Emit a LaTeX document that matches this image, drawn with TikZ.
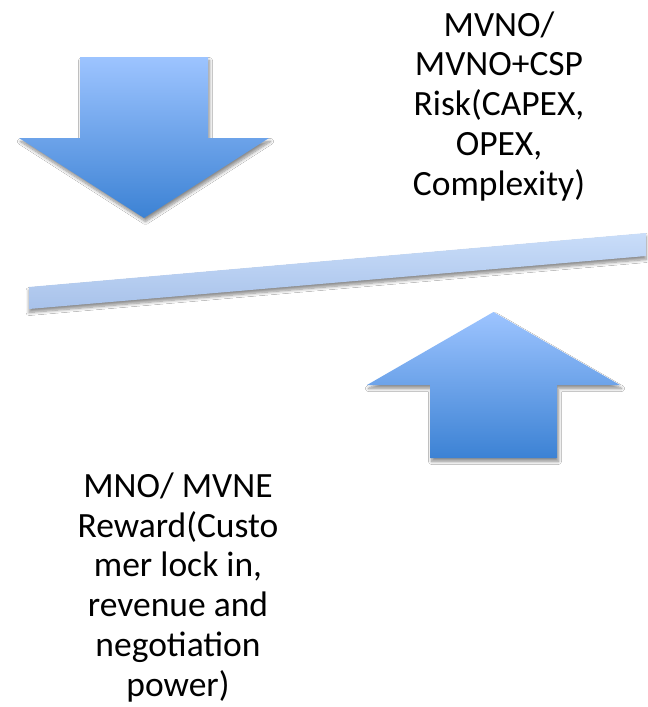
\documentclass[tikz,border=0pt]{standalone}
\usepackage{fontspec}
\setmainfont{Carlito}
\usetikzlibrary{shadows.blur}
\definecolor{arrtop}{RGB}{157,196,255}
\definecolor{arrbot}{RGB}{60,130,212}
\definecolor{bartop}{RGB}{201,221,249}
\definecolor{barbot}{RGB}{168,194,234}
\tikzset{
  bigarrow/.style={top color=arrtop, bottom color=arrbot, draw=none,
    blur shadow={shadow xshift=1.5pt, shadow yshift=-3.5pt, shadow opacity=45, shadow blur steps=8, shadow blur radius=3pt}},
  beam/.style={top color=bartop, bottom color=barbot, draw=none,
    blur shadow={shadow xshift=0pt, shadow yshift=-3.5pt, shadow opacity=45, shadow blur steps=8, shadow blur radius=3pt}},
  lbl/.style={align=center, inner sep=0pt, font=\fontsize{35.5}{39.7}\selectfont}
}
\begin{document}
\begin{tikzpicture}[x=1pt,y=-1pt]
\useasboundingbox[fill=white] (0,0) rectangle (648,707);
% down arrow
\path[bigarrow] (80,57) -- (208,57) -- (208,138) -- (269,138) -- (144,218) -- (19,138) -- (80,138) -- cycle;
% beam
\path[beam] (29,287) -- (646,233) -- (646,256) -- (29,309) -- cycle;
% up arrow
\path[bigarrow] (493.5,312) -- (620,385) -- (557,385) -- (557,458) -- (430,458) -- (430,385) -- (367,385) -- cycle;
% labels (base anchor = baseline of the last line)
\node[lbl, anchor=base] (risk) at (499,195) {MVNO/\\MVNO+CSP\\Risk(CAPEX,\\OPEX,\\Complexity)};
\node[lbl, anchor=base] (reward) at (178,696) {MNO/ MVNE\\Reward(Custo\\mer lock in,\\revenue and\\negotiation\\power)};
\end{tikzpicture}
\end{document}
